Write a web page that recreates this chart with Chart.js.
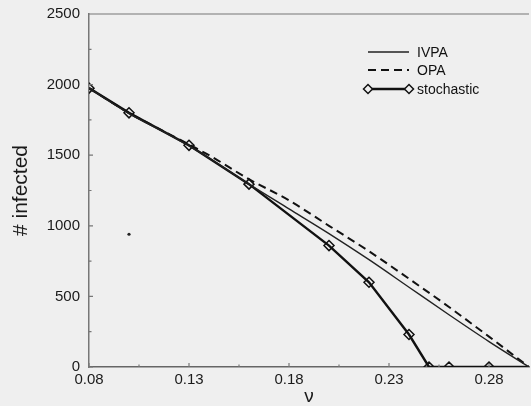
<!DOCTYPE html>
<html>
<head>
<meta charset="utf-8">
<script src="https://cdn.jsdelivr.net/npm/chart.js@4"></script>
<style>
  html, body { margin: 0; padding: 0; background: #efefef; }
  #wrap { width: 531px; height: 406px; }
</style>
</head>
<body>
<div id="wrap"><canvas id="infChart" width="531" height="406"></canvas></div>
<script>
// infection rate grid for the approximations
const nu = [0.08, 0.10, 0.12, 0.14, 0.16, 0.18, 0.20, 0.22, 0.24, 0.26, 0.28, 0.30];
const ivpa = [1975, 1795, 1645, 1480, 1295, 1120, 945, 760, 565, 370, 180, 0];
const opa = [1975, 1800, 1650, 1500, 1330, 1180, 1000, 820, 625, 425, 215, 0];

// stochastic simulation runs
const nuStoch = [0.08, 0.10, 0.13, 0.16, 0.20, 0.22, 0.24, 0.25, 0.26, 0.28, 0.30];
const stoch = [1975, 1800, 1570, 1295, 860, 600, 230, 0, 0, 0, 0];

// lone speck left of the curves
const speck = [{ x: 0.10, y: 940 }];

const xTicks = [0.08, 0.13, 0.18, 0.23, 0.28];
const xMinor = [0.105, 0.155, 0.205, 0.255];
const yTicks = [0, 500, 1000, 1500, 2000, 2500];
const yMinor = [250, 750, 1250, 1750, 2250];

const legendNames = ["IVPA", "OPA", "stochastic"];

const FONT = "'Liberation Sans', Arial, Helvetica, sans-serif";
const INK = "#111";

const toPts = (xs, ys) => xs.map((x, i) => ({ x, y: ys[i] }));

// fixed axis boxes, no extra room for overhanging labels
const noPad = s => { s.paddingLeft = 0; s.paddingRight = 0; s.paddingTop = 0; s.paddingBottom = 0; };

// inward tick marks plus the top frame line
const frameTicks = {
  id: "frameTicks",
  afterDatasetsDraw(chart) {
    const { ctx, chartArea: a, scales } = chart;
    const xs = scales.x, ys = scales.y;
    ctx.save();
    ctx.strokeStyle = "#777";
    ctx.lineWidth = 1.2;
    ctx.beginPath();
    ctx.moveTo(a.left, a.top);
    ctx.lineTo(a.right, a.top);
    xTicks.forEach(v => { const px = xs.getPixelForValue(v); ctx.moveTo(px, a.bottom); ctx.lineTo(px, a.bottom - 4); });
    xMinor.forEach(v => { const px = xs.getPixelForValue(v); ctx.moveTo(px, a.bottom); ctx.lineTo(px, a.bottom - 2.5); });
    yTicks.forEach(v => { const py = ys.getPixelForValue(v); ctx.moveTo(a.left, py); ctx.lineTo(a.left + 4, py); });
    yMinor.forEach(v => { const py = ys.getPixelForValue(v); ctx.moveTo(a.left, py); ctx.lineTo(a.left + 2.5, py); });
    ctx.stroke();
    ctx.restore();
  }
};

// legend box in the upper right: line samples and labels
const lineLegend = {
  id: "lineLegend",
  afterDraw(chart) {
    const { ctx } = chart;
    const x0 = 368, x1 = 409, tx = 417;
    const rows = [52, 70, 89];
    ctx.save();
    ctx.font = "14px " + FONT;
    ctx.textBaseline = "middle";
    ctx.fillStyle = INK;
    legendNames.forEach((name, i) => {
      const ds = chart.data.datasets[i];
      const y = rows[i];
      ctx.strokeStyle = ds.borderColor;
      ctx.lineWidth = ds.borderWidth;
      ctx.setLineDash(ds.borderDash || []);
      ctx.beginPath();
      ctx.moveTo(x0, y);
      ctx.lineTo(x1, y);
      ctx.stroke();
      ctx.setLineDash([]);
      if (ds.showMarkers) {
        [x0, x1].forEach(px => {
          ctx.beginPath();
          ctx.moveTo(px - 4.5, y);
          ctx.lineTo(px, y - 4.5);
          ctx.lineTo(px + 4.5, y);
          ctx.lineTo(px, y + 4.5);
          ctx.closePath();
          ctx.fillStyle = "#efefef";
          ctx.fill();
          ctx.lineWidth = 1.5;
          ctx.stroke();
        });
        ctx.fillStyle = INK;
      }
      ctx.fillText(name, tx, y + 1);
    });
    ctx.restore();
  }
};

new Chart(document.getElementById("infChart"), {
  type: "line",
  data: {
    datasets: [
      {
        label: legendNames[0],
        data: toPts(nu, ivpa),
        borderColor: "#222",
        borderWidth: 1.4,
        pointRadius: 0,
        cubicInterpolationMode: "monotone"
      },
      {
        label: legendNames[1],
        data: toPts(nu, opa),
        borderColor: INK,
        borderWidth: 2,
        borderDash: [8, 5],
        pointRadius: 0,
        cubicInterpolationMode: "monotone"
      },
      {
        label: legendNames[2],
        data: toPts(nuStoch, stoch),
        borderColor: INK,
        borderWidth: 2.4,
        tension: 0,
        showMarkers: true,
        pointStyle: "rectRot",
        pointRadius: nuStoch.map((v, i) => (i === nuStoch.length - 1 ? 0 : 5)),
        pointBorderWidth: 1.5,
        pointBorderColor: INK,
        pointBackgroundColor: "rgba(0,0,0,0)"
      },
      {
        type: "scatter",
        label: "",
        data: speck,
        pointRadius: 1.6,
        pointBackgroundColor: "#222",
        pointBorderWidth: 0
      }
    ]
  },
  options: {
    responsive: false,
    animation: false,
    devicePixelRatio: 1,
    layout: { autoPadding: false, padding: { top: 14, right: 2, left: 0, bottom: 0 } },
    plugins: {
      legend: { display: false },
      tooltip: { enabled: false }
    },
    scales: {
      x: {
        type: "linear",
        min: 0.08,
        max: 0.30,
        afterFit: s => { s.height = 39; noPad(s); },
        afterBuildTicks: s => { s.ticks = xTicks.map(v => ({ value: v })); },
        grid: { display: false, drawTicks: false, tickLength: 0 },
        border: { display: true, color: "#666", width: 1.5 },
        ticks: {
          autoSkip: false,
          maxRotation: 0,
          padding: 4,
          color: "#1a1a1a",
          font: { family: FONT, size: 15 },
          callback: v => v.toFixed(2)
        },
        title: {
          display: true,
          text: "ν",
          color: "#1a1a1a",
          padding: { top: 0, bottom: 0 },
          font: { family: FONT, size: 19, lineHeight: 1 }
        }
      },
      y: {
        min: 0,
        max: 2500,
        afterFit: s => { s.width = 89; noPad(s); },
        afterBuildTicks: s => { s.ticks = yTicks.map(v => ({ value: v })); },
        grid: { display: false, drawTicks: false, tickLength: 0 },
        border: { display: true, color: "#777", width: 1.5 },
        ticks: {
          autoSkip: false,
          padding: 9,
          color: "#1a1a1a",
          font: { family: FONT, size: 15 },
          callback: v => String(v)
        },
        title: {
          display: true,
          text: "# infected",
          color: "#1a1a1a",
          padding: { top: 9, bottom: 0 },
          font: { family: FONT, size: 21 }
        }
      }
    }
  },
  plugins: [frameTicks, lineLegend]
});
</script>
</body>
</html>
